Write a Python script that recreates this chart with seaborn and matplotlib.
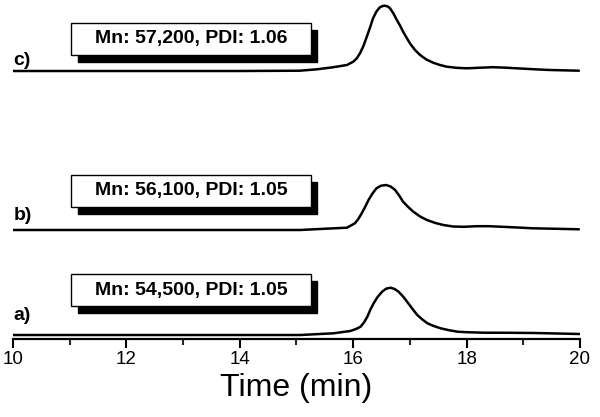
import matplotlib
matplotlib.use("Agg")
import matplotlib.pyplot as plt
from matplotlib.patches import Rectangle
import pandas as pd
import seaborn as sns

# GPC traces (time in min, detector signal in arbitrary units)
a_time = [10.0, 12.0, 14.0, 15.07, 15.65, 15.95, 16.05, 16.13, 16.19, 16.25, 16.30,
          16.36, 16.43, 16.51, 16.58, 16.66, 16.73, 16.80, 16.88, 16.95, 17.04,
          17.13, 17.22, 17.31, 17.42, 17.54, 17.69, 17.84, 18.05, 18.31, 18.80,
          19.19, 19.60, 19.99]
a_sig = [0, 0, 0, 0, 1.7, 4, 6, 8.3, 12.5, 18.3, 25,
         31.7, 38, 43.3, 46.3, 47.3, 46, 43.3, 38.5, 33.3, 26.5,
         20, 15.5, 11.7, 9, 6.7, 4.8, 3.3, 2.7, 2.3, 2.2,
         2, 1.5, 1]

b_time = [10.0, 12.0, 14.0, 15.06, 15.41, 15.89, 16.03, 16.09, 16.15, 16.21, 16.27,
          16.34, 16.41, 16.49, 16.58, 16.66, 16.74, 16.81, 16.88, 16.97, 17.06,
          17.18, 17.30, 17.45, 17.59, 17.76, 17.95, 18.18, 18.40, 18.59, 18.90,
          19.17, 19.60, 19.98]
b_sig = [0, 0, 0, 0, 1, 2.3, 6.7, 11, 16.7, 23, 30,
         36.5, 41.7, 44.3, 45, 43.5, 40, 34.5, 28.3, 23, 18.3,
         13.5, 10, 7, 5, 3.5, 3.2, 3.8, 3.8, 3.3, 2.5,
         1.7, 1.2, 0.7]

c_time = [10.0, 12.0, 14.0, 15.06, 15.36, 15.64, 15.89, 16.00, 16.06, 16.12, 16.18,
          16.24, 16.30, 16.35, 16.41, 16.47, 16.52, 16.56, 16.61, 16.65, 16.71,
          16.77, 16.83, 16.88, 16.94, 17.00, 17.09, 17.18, 17.29, 17.41, 17.53,
          17.65, 17.82, 18.00, 18.25, 18.47, 18.70, 18.88, 19.20, 19.47, 19.98]
c_sig = [0, 0, 0, 0.3, 1.7, 3.7, 6, 9.3, 12.5, 17.7, 25,
         34.3, 44, 52.7, 59.5, 63.7, 65, 65.3, 64.5, 62.7, 57.5,
         51, 45, 39.3, 33.5, 27.7, 21, 16, 11.5, 8.3, 6,
         4.3, 3.2, 2.7, 3.3, 3.8, 3.3, 2.7, 1.7, 1, 0.3]

sample_labels = ["a)", "b)", "c)"]
box_texts = ["Mn: 54,500, PDI: 1.05", "Mn: 56,100, PDI: 1.05", "Mn: 57,200, PDI: 1.06"]

# vertical stacking of the traces
offsets = [4, 109, 268]
box_bottoms = [33, 132, 284]
label_y = [19, 119, 274]

sns.set_theme(style="white")
plt.rcParams["font.family"] = ["Liberation Sans", "DejaVu Sans"]
plt.rcParams["text.color"] = "black"
plt.rcParams["axes.labelcolor"] = "black"

fig = plt.figure(figsize=(6, 4.17), dpi=100)
ax = fig.add_axes([13 / 600, 78 / 417, 567 / 600, 339 / 417])

traces = [(a_time, a_sig), (b_time, b_sig), (c_time, c_sig)]
for i, (t, s) in enumerate(traces):
    df = pd.DataFrame({"time": t, "signal": [v + offsets[i] for v in s]})
    sns.lineplot(data=df, x="time", y="signal", ax=ax, color="black",
                 linewidth=1.8, solid_joinstyle="round", solid_capstyle="round")

    # shadowed annotation box
    bx, bw, bh = 11.03, 4.22, 32
    ax.add_patch(Rectangle((bx + 0.12, box_bottoms[i] - 7), bw, bh,
                           facecolor="black", edgecolor="black", zorder=3))
    ax.add_patch(Rectangle((bx, box_bottoms[i]), bw, bh,
                           facecolor="white", edgecolor="black", linewidth=1.0, zorder=4))
    ax.text(bx + bw / 2, box_bottoms[i] + bh / 2, box_texts[i], ha="center", va="center",
            fontsize=14, fontweight="bold", zorder=5)
    ax.text(10.01, label_y[i], sample_labels[i], ha="left", va="baseline",
            fontsize=14, fontweight="bold")

ax.set_xlim(10, 20)
ax.set_ylim(0, 339)
ax.set_xticks([10, 12, 14, 16, 18, 20])
ax.set_xticks([11, 13, 15, 17, 19], minor=True)
ax.set_yticks([])
ax.set_ylabel("")
ax.set_xlabel("Time (min)", fontsize=23, labelpad=4)

for side in ["left", "right", "top"]:
    ax.spines[side].set_visible(False)
ax.spines["bottom"].set_linewidth(1.6)
ax.spines["bottom"].set_color("black")
ax.tick_params(axis="x", which="major", direction="out", length=6.5, width=1.5,
               labelsize=13.5, colors="black", pad=2, bottom=True)
ax.tick_params(axis="x", which="minor", direction="out", length=4.3, width=1.5,
               bottom=True)
ax.patch.set_alpha(0)

fig.savefig("out.png", dpi=100)
